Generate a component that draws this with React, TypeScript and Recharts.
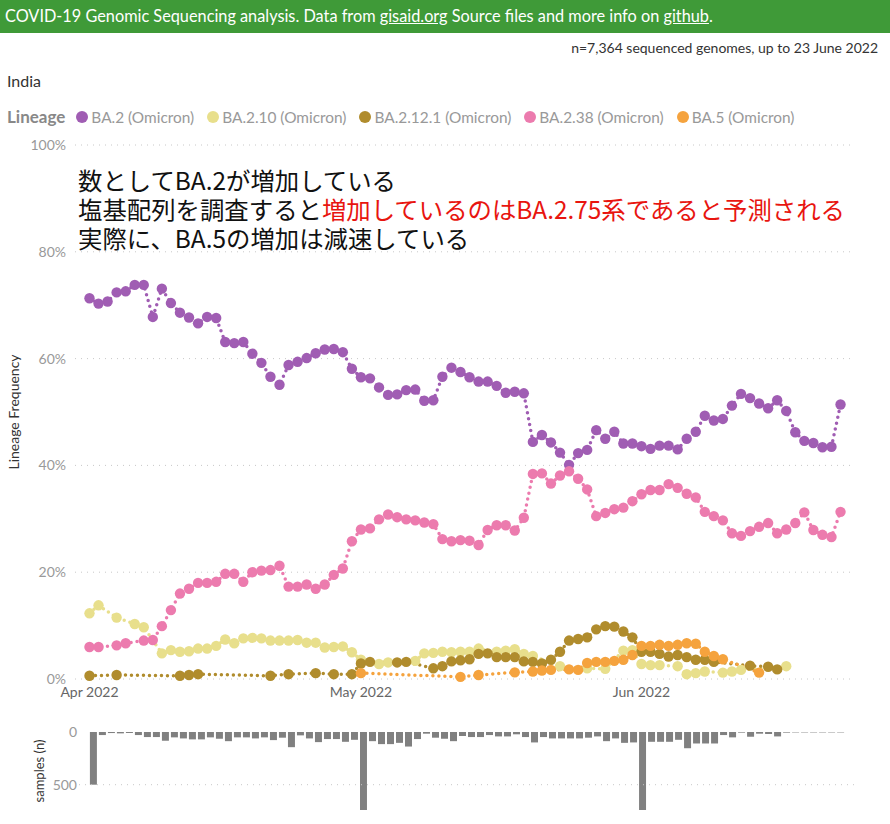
import React from "react";
import {
  LineChart,
  Line,
  BarChart,
  Bar,
  XAxis,
  YAxis,
  CartesianGrid,
  ReferenceLine,
} from "recharts";

// one value per day, 1 Apr 2022 .. 23 Jun 2022 (null = no point that day)
const ba2 = [
  71.3, 70.3, 70.7, 72.4, 72.6, 73.8, 73.8, 67.8, 73.1, 70.4, 68.6, 67.7, 66.6, 67.8, 67.6,
  63.1, 62.9, 63.1, 60.9, 59.2, 56.6, 55.1, 58.8, 59.4, 60.1, 61.0, 61.7, 61.8, 61.2, 58.1,
  56.5, 56.3, 54.6, 53.2, 53.3, 54.1, 54.2, 52.1, 52.2, 56.6, 58.3, 57.5, 56.5, 55.7, 55.7,
  54.9, 53.6, 53.8, 53.5, 44.4, 45.7, 44.3, 42.4, 40.1, 42.3, 42.9, 46.6, 45.0, 46.3, 44.1,
  44.1, 43.6, 43.1, 43.7, 43.7, 43.0, 45.0, 46.3, 49.3, 48.4, 48.7, 51.2, 53.4, 52.6, 51.6,
  50.7, 52.2, 50.2, 46.2, 44.6, 44.2, 43.4, 43.5, 51.4,
];
const ba210 = [
  12.3, 13.8, null, 11.5, null, 10.3, 9.7, null, 4.8, 5.4, 5.1, 5.2, 5.7, 5.7, 6.2,
  7.4, 6.7, 7.6, 7.7, 7.6, 7.2, 7.2, 7.2, 7.3, 6.8, 6.8, 5.9, 6.0, 6.1, 5.0,
  3.6, null, 2.8, 3.1, null, null, 3.4, 4.8, 4.9, 5.1, 5.0, 5.1, 5.1, 5.7, null,
  5.1, 5.3, 5.6, 4.7, 4.3, null, null, 2.4, null, null, 2.0, null, 1.9, null, 5.3,
  5.4, 2.8, 2.6, 2.6, null, 2.4, 0.9, 1.1, 1.4, null, 1.2, 1.4, 1.7, null, null,
  null, null, 2.4, null, null, null, null, null, null,
];
const ba2121 = [
  0.6, null, null, 0.75, null, null, null, null, null, null, 0.6, 0.75, 0.9, null, null,
  null, null, null, null, null, 0.6, null, 0.9, null, null, 1.1, null, 0.9, null, 0.9,
  2.9, 3.2, null, null, 3.1, 3.2, null, null, 2.0, 2.4, 3.3, 3.5, 3.7, 4.7, 4.8,
  4.1, 4.1, 4.1, 3.3, 3.2, 2.9, 3.6, 5.1, 7.2, 7.5, 7.8, 9.3, 9.9, 9.8, 8.9,
  7.8, 5.1, 5.1, 4.7, 4.2, 4.5, 4.1, 3.6, 3.6, 3.2, null, null, null, 2.5, null,
  2.3, 1.8, null, null, null, null, null, null, null,
];
const ba238 = [
  6.0, 6.0, null, 6.3, 6.7, null, 7.2, 7.3, 9.9, 12.9, 16.0, 16.9, 18.0, 18.0, 18.2,
  19.7, 19.7, 18.2, 20.0, 20.3, 20.4, 21.2, 17.3, 17.3, 17.7, 16.9, 17.7, 19.5, 20.7, 25.8,
  28.0, 28.2, 29.9, 30.8, 30.3, 29.9, 29.7, 29.3, 29.0, 26.2, 25.8, 26.0, 25.9, 25.1, 27.9,
  28.8, 28.8, 27.8, 30.2, 38.4, 38.5, 36.6, 38.1, 38.9, 37.5, 35.5, 30.5, 31.1, 31.8, 32.1,
  33.3, 34.6, 35.4, 35.4, 36.5, 35.8, 34.7, 34.0, 31.3, 30.5, 29.7, 27.3, 26.8, 27.7, 28.5,
  29.2, 27.3, 28.0, 29.2, 31.2, 27.9, 27.0, 26.6, 31.3,
];
const ba5 = [
  null, null, null, null, null, null, null, null, null, null, null, null, null, null, null,
  null, null, null, null, null, null, null, null, null, null, null, null, null, null, null,
  1.1, null, null, null, null, null, null, null, null, null, null, 0.4, null, 0.75, null,
  null, null, 1.25, null, 1.4, 1.6, 1.7, null, 1.8, 1.7, 3.0, 3.2, 3.2, 3.4, 3.6,
  4.5, 6.2, 6.2, 6.4, 6.2, 6.4, 6.7, 6.6, 5.1, 4.3, 3.7, null, null, null, 1.2,
  null, null, null, null, null, null, null, null, null,
];
const samples = [
  500, 29, 10, 13, 10, 29, 48, 48, 83, 51, 61, 70, 70, 51, 64, 87, 51, 51, 61, 51,
  77, 54, 144, 32, 61, 96, 67, 67, 93, 74,
  740, 87, 115, 115, 103, 138, 67, 16, 54, 64, 87, 38, 48, 48, 29, 42, 42, 22, 48, 99,
  48, 61, 61, 61, 61, 54, 42, 87, 61, 103, 99,
  740, 93, 93, 93, 74, 154, 109, 109, 109, 29, 51, 6, 45, 16, 19, 42, 6, 4, 4, 4, 4, 4, 4,
];

const monthTicks = [0, 30, 61];
const monthLabels = ["Apr 2022", "May 2022", "Jun 2022"];
const freqTicks = [0, 20, 40, 60, 80, 100];
const sampleTicks = [0, 500];

const series = [
  { key: "ba2", name: "BA.2 (Omicron)", color: "#a05db3", values: ba2 },
  { key: "ba210", name: "BA.2.10 (Omicron)", color: "#e8df8c", values: ba210 },
  { key: "ba2121", name: "BA.2.12.1 (Omicron)", color: "#b08c2d", values: ba2121 },
  { key: "ba238", name: "BA.2.38 (Omicron)", color: "#ec7bae", values: ba238 },
  { key: "ba5", name: "BA.5 (Omicron)", color: "#f5a33e", values: ba5 },
];

const rows = samples.map((n, i) => {
  const row: Record<string, number | null> = { day: i, n };
  series.forEach((s) => {
    row[s.key] = s.values[i];
  });
  return row;
});

const dayDomain = [-1.6, 84.6];
const font = 'Lato, "Noto Sans", sans-serif';

export default function App() {
  return (
    <div
      style={{
        position: "absolute",
        left: 0,
        top: 0,
        width: 890,
        height: 824,
        background: "#fff",
        fontFamily: font,
        overflow: "hidden",
      }}
    >
      {/* banner */}
      <div
        style={{
          height: 33,
          background: "#3f9a38",
          color: "#fff",
          fontSize: 16.3,
          lineHeight: "31px",
          paddingLeft: 5,
          whiteSpace: "nowrap",
        }}
      >
        COVID-19 Genomic Sequencing analysis. Data from <u>gisaid.org</u> Source files and more
        info on <u>github</u>.
      </div>
      <div style={{ position: "absolute", top: 39, right: 12, fontSize: 14, color: "#333" }}>
        n=7,364 sequenced genomes, up to 23 June 2022
      </div>
      <div style={{ position: "absolute", top: 71, left: 7, fontSize: 16, color: "#333" }}>
        India
      </div>

      {/* legend */}
      <div
        style={{
          position: "absolute",
          top: 106,
          left: 7,
          display: "flex",
          alignItems: "center",
          fontSize: 15.4,
          color: "#999",
          whiteSpace: "nowrap",
        }}
      >
        <span style={{ fontWeight: 700, color: "#888", fontSize: 17, marginRight: 11 }}>
          Lineage
        </span>
        {series.map((s) => (
          <span key={s.key} style={{ display: "flex", alignItems: "center", marginRight: 13 }}>
            <span
              style={{
                width: 12,
                height: 12,
                borderRadius: 6,
                background: s.color,
                display: "inline-block",
                marginRight: 3,
              }}
            />
            {s.name}
          </span>
        ))}
      </div>

      {/* main frequency chart */}
      <div style={{ position: "absolute", top: 130, left: 0 }}>
        <LineChart
          width={890}
          height={600}
          data={rows}
          margin={{ top: 15, right: 35, left: 0, bottom: 21 }}
        >
          <CartesianGrid vertical={false} stroke="#c8c8c8" strokeDasharray="1 5" />
          <XAxis
            dataKey="day"
            type="number"
            domain={dayDomain}
            ticks={monthTicks}
            tickFormatter={(v) => monthLabels[monthTicks.indexOf(v)]}
            axisLine={false}
            tickLine={false}
            height={30}
            allowDataOverflow
            tick={{ fontSize: 14, fill: "#666", fontFamily: font }}
          />
          <YAxis
            width={75}
            domain={[0, 100]}
            ticks={freqTicks}
            tickFormatter={(v) => `${v}%`}
            axisLine={false}
            tickLine={false}
            tickSize={9}
            tickMargin={0}
            tick={{ fontSize: 14, fill: "#999", fontFamily: font }}
            label={{
              value: "Lineage Frequency",
              angle: -90,
              position: "insideLeft",
              offset: 14,
              style: { textAnchor: "middle", fontSize: 14, fill: "#333", fontFamily: font },
            }}
          />
          {series.map((s) => (
            <Line
              key={s.key}
              dataKey={s.key}
              name={s.name}
              stroke={s.color}
              strokeWidth={3.5}
              strokeLinecap="round"
              strokeDasharray="0 6"
              connectNulls
              dot={{ r: 5.2, fill: s.color, stroke: "none" }}
              activeDot={false}
              isAnimationActive={false}
            />
          ))}
        </LineChart>
      </div>

      {/* annotation */}
      <div
        style={{
          position: "absolute",
          top: 165,
          left: 78,
          fontFamily: '"Noto Sans CJK JP", sans-serif',
          fontSize: 24.4,
          lineHeight: "29px",
          color: "#111",
          whiteSpace: "nowrap",
        }}
      >
        <div>数としてBA.2が増加している</div>
        <div>
          塩基配列を調査すると
          <span style={{ color: "#e8150f" }}>増加しているのはBA.2.75系であると予測される</span>
        </div>
        <div>実際に、BA.5の増加は減速している</div>
      </div>

      {/* samples chart */}
      <div style={{ position: "absolute", top: 720, left: 0 }}>
        <BarChart
          width={890}
          height={100}
          data={rows}
          margin={{ top: 12, right: 35, left: 0, bottom: 10 }}
          barCategoryGap={0}
        >
          <XAxis dataKey="day" type="number" domain={dayDomain} hide allowDataOverflow />
          <YAxis
            width={79}
            reversed
            domain={[0, 740]}
            ticks={sampleTicks}
            axisLine={false}
            tickLine={false}
            tickSize={2}
            tickMargin={0}
            tick={{ fontSize: 14, fill: "#999", fontFamily: font }}
            label={{
              value: "samples (n)",
              angle: -90,
              position: "insideLeft",
              offset: 39,
              style: { textAnchor: "middle", fontSize: 13, fill: "#333", fontFamily: font },
            }}
          />
          <ReferenceLine y={sampleTicks[1]} stroke="#c8c8c8" strokeDasharray="1 5" />
          <Bar dataKey="n" fill="#808080" barSize={7} isAnimationActive={false} />
        </BarChart>
      </div>
    </div>
  );
}
